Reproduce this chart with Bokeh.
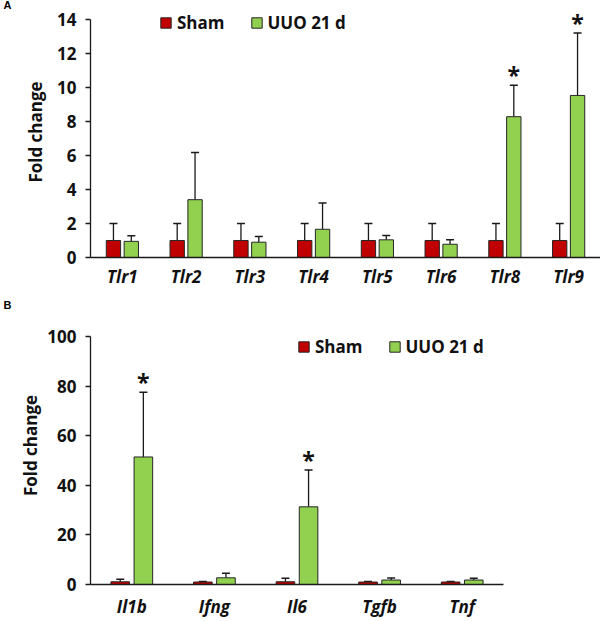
from bokeh.plotting import figure
from bokeh.models import Range1d, FixedTicker, Whisker, TeeHead, ColumnDataSource, Legend, LegendItem
from bokeh.layouts import column
from bokeh.core.properties import value
from bokeh.embed import file_html
from bokeh.resources import INLINE

# ---------------- data: panel A ----------------
genes_a = ["Tlr1", "Tlr2", "Tlr3", "Tlr4", "Tlr5", "Tlr6", "Tlr8", "Tlr9"]
sham_a = [1.0, 1.0, 1.0, 1.0, 1.0, 1.0, 1.0, 1.0]
sham_a_err = [1.0, 1.0, 1.0, 1.0, 1.0, 1.0, 1.0, 1.0]
uuo_a = [0.95, 3.4, 0.9, 1.66, 1.04, 0.78, 8.28, 9.53]
uuo_a_err = [0.33, 2.77, 0.33, 1.54, 0.25, 0.26, 1.85, 3.67]
sig_a = [False, False, False, False, False, False, True, True]
ticks_a = [0, 2, 4, 6, 8, 10, 12, 14]

# ---------------- data: panel B ----------------
genes_b = ["Il1b", "Ifng", "Il6", "Tgfb", "Tnf"]
sham_b = [1.1, 1.0, 1.1, 1.0, 1.0]
sham_b_err = [1.0, 0.2, 1.4, 0.2, 0.2]
uuo_b = [51.4, 2.7, 31.3, 1.8, 1.8]
uuo_b_err = [26.1, 1.8, 14.9, 0.8, 0.7]
sig_b = [True, False, True, False, False]
ticks_b = [0, 20, 40, 60, 80, 100]

series_names = ["Sham", "UUO 21 d"]

RED = "#C00000"
GREEN = "#92D050"
EDGE = "#262626"
AX = "#1a1a1a"
FONT = "Open Sans"
OFF = 0.14
BAR_W = 0.225


def panel(genes, sham, sham_err, uuo, uuo_err, sig, ticks, y_end, x_end,
          width, height, b_left, b_bottom, letter, ylab_standoff, xlab_standoff, legend_loc):
    n = len(genes)
    p = figure(width=width, height=height, x_range=Range1d(0, x_end), y_range=Range1d(0, y_end),
               output_backend="svg", toolbar_location=None,
               min_border_left=b_left, min_border_right=0,
               min_border_top=0, min_border_bottom=b_bottom)
    p.xgrid.visible = False
    p.ygrid.visible = False
    p.outline_line_color = None
    p.background_fill_color = "white"

    # panel letter as title (thin title strip)
    p.title.text = letter
    p.title.align = "left"
    p.title.offset = 3 - b_left
    p.title.standoff = -8
    p.title.text_font = "Liberation Sans"
    p.title.text_font_style = "bold"
    p.title.text_font_size = "11px"
    p.title.text_color = "#000000"

    centers = [i + 0.5 for i in range(n)]
    xs_sham = [c - OFF for c in centers]
    xs_uuo = [c + OFF for c in centers]

    src_s = ColumnDataSource(dict(x=xs_sham, top=sham, up=[v + e for v, e in zip(sham, sham_err)]))
    src_u = ColumnDataSource(dict(x=xs_uuo, top=uuo, up=[v + e for v, e in zip(uuo, uuo_err)]))

    r_s = p.vbar(x="x", top="top", bottom=0, width=BAR_W, source=src_s,
                 fill_color=RED, line_color=EDGE, line_width=1)
    r_u = p.vbar(x="x", top="top", bottom=0, width=BAR_W, source=src_u,
                 fill_color=GREEN, line_color=EDGE, line_width=1)

    for src in (src_s, src_u):
        w = Whisker(base="x", lower="top", upper="up", source=src, dimension="height",
                    line_color=AX, line_width=1.3,
                    upper_head=TeeHead(size=8, line_color=AX, line_width=1.5),
                    lower_head=None)
        p.add_layout(w)

    # significance asterisks
    sx = [x for x, s in zip(xs_uuo, sig) if s]
    sy = [v + e for v, e, s in zip(uuo, uuo_err, sig) if s]
    p.text(x=sx, y=sy, text=["*"] * len(sx), text_font=value(FONT), text_font_style="bold",
           text_font_size="23px", text_align="center", text_baseline="alphabetic",
           text_color="#111111", y_offset=-10)

    # y axis
    p.yaxis.ticker = FixedTicker(ticks=ticks)
    p.yaxis.bounds = (ticks[0], ticks[-1])
    p.yaxis.major_tick_out = 5
    p.yaxis.major_tick_in = 0
    p.yaxis.minor_tick_line_color = None
    p.yaxis.major_label_standoff = 9
    p.yaxis.major_label_text_font = FONT
    p.yaxis.major_label_text_font_style = "bold"
    p.yaxis.major_label_text_font_size = "17px"
    p.yaxis.major_label_text_color = "#111111"
    p.yaxis.axis_line_color = AX
    p.yaxis.axis_line_width = 1.3
    p.yaxis.major_tick_line_color = AX
    p.yaxis.major_tick_line_width = 1.3
    p.yaxis.axis_label = "Fold change"
    p.yaxis.axis_label_standoff = ylab_standoff
    p.yaxis.axis_label_text_font = FONT
    p.yaxis.axis_label_text_font_style = "bold"
    p.yaxis.axis_label_text_font_size = "17px"
    p.yaxis.axis_label_text_color = "#111111"

    # x axis
    p.xaxis.ticker = FixedTicker(ticks=centers)
    p.xaxis.bounds = (0, n)
    p.xaxis.major_label_overrides = {c: g for c, g in zip(centers, genes)}
    p.xaxis.major_tick_line_color = None
    p.xaxis.minor_tick_line_color = None
    p.xaxis.major_tick_out = 0
    p.xaxis.major_tick_in = 0
    p.xaxis.major_label_standoff = xlab_standoff
    p.xaxis.major_label_text_font = FONT
    p.xaxis.major_label_text_font_style = "bold italic"
    p.xaxis.major_label_text_font_size = "17px"
    p.xaxis.major_label_text_color = "#111111"
    p.xaxis.axis_line_color = AX
    p.xaxis.axis_line_width = 1.3

    legend = Legend(items=[LegendItem(label=series_names[0], renderers=[r_s]),
                           LegendItem(label=series_names[1], renderers=[r_u])],
                    orientation="horizontal", location=legend_loc,
                    glyph_width=13, glyph_height=13, label_standoff=5, spacing=25,
                    padding=0, margin=0, border_line_color=None, background_fill_alpha=0,
                    label_text_font=FONT, label_text_font_style="bold",
                    label_text_font_size="17px", label_text_color="#111111")
    p.add_layout(legend)
    return p


pa = panel(genes_a, sham_a, sham_a_err, uuo_a, uuo_a_err, sig_a, ticks_a, 14.76, 8,
           600, 300, 90, 43, "A", 7, 7, (69, 223))
pb = panel(genes_b, sham_b, sham_b_err, uuo_b, uuo_b_err, sig_b, ticks_b, 112.05, 5 * 510 / 413,
           600, 321, 90, 37, "B", 2, 10, (207, 226))

layout = column(pa, pb, spacing=0)
open("out.html", "w").write(file_html(layout, INLINE))
